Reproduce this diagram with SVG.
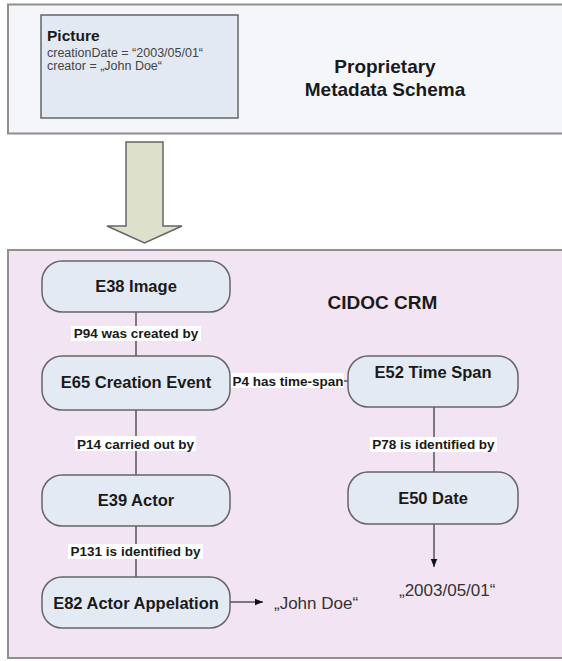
<svg xmlns="http://www.w3.org/2000/svg" width="562" height="661" viewBox="0 0 562 661">
  <defs>
    <marker id="arrowhead" viewBox="0 0 10 10" refX="10" refY="5" markerWidth="8" markerHeight="8" markerUnits="userSpaceOnUse" orient="auto">
      <path d="M0,1 L10,5 L0,9 Z" fill="#111"/>
    </marker>
    <style>
      text { font-family: "Liberation Sans", Arial, sans-serif; fill: #1a1a1a; }
      .panel { stroke: #8f8f8f; stroke-width: 2; }
      .node { fill: #e4eaf4; stroke: #666; stroke-width: 1.5; }
      .ntext { font-size: 16.5px; font-weight: bold; text-anchor: middle; }
      .lbg { fill: #ffffff; }
      .ltext { font-size: 13.5px; font-weight: bold; text-anchor: middle; }
      .edge { stroke: #555; stroke-width: 1.5; fill: none; }
      .title { font-size: 19px; font-weight: bold; text-anchor: middle; }
      .value { font-size: 17px; fill: #333; }
      .attr { font-size: 12.5px; fill: #444; }
    </style>
  </defs>

  <!-- source schema panel -->
  <g id="proprietary-schema">
    <rect class="panel" x="8" y="4.5" width="570" height="129" fill="#f5f6fa"/>
    <text class="title" x="385" y="73">Proprietary</text>
    <text class="title" x="385" y="96">Metadata Schema</text>
  </g>

  <g id="picture">
    <rect x="41" y="15" width="197" height="103" fill="#e3e9f3" stroke="#666" stroke-width="1.5"/>
    <text x="47" y="41" font-size="15.5" font-weight="bold">Picture</text>
    <text class="attr" x="47" y="57">creationDate = “2003/05/01“</text>
    <text class="attr" x="47" y="70">creator = „John Doe“</text>
  </g>

  <!-- mapping arrow -->
  <g id="mapping-arrow">
    <path d="M126,142 L163,142 L163,226 L182,226 L144.5,243 L107,226 L126,226 Z" fill="#dde1cc" stroke="#666" stroke-width="1.5" stroke-linejoin="miter"/>
  </g>

  <!-- CRM panel -->
  <g id="cidoc-crm">
    <rect class="panel" x="8" y="250" width="570" height="408" fill="#f3e4f3"/>
    <text class="title" x="382.5" y="309">CIDOC CRM</text>
  </g>

  <!-- connectors -->
  <g id="connectors">
    <line class="edge" x1="136" y1="312" x2="136" y2="356"/>
    <line class="edge" x1="136" y1="410" x2="136" y2="475"/>
    <line class="edge" x1="136" y1="526" x2="136" y2="577"/>
    <line class="edge" x1="230" y1="381" x2="348" y2="381"/>
    <line class="edge" x1="434" y1="407" x2="434" y2="472"/>
    <line class="edge" x1="230" y1="602" x2="263" y2="602" marker-end="url(#arrowhead)"/>
    <line class="edge" x1="434" y1="524" x2="434" y2="567" marker-end="url(#arrowhead)"/>

    <rect class="lbg" x="71" y="326" width="130" height="15"/>
    <text class="ltext" x="136" y="338">P94 was created by</text>

    <rect class="lbg" x="230" y="373" width="114" height="15"/>
    <text class="ltext" x="288" y="385.5">P4 has time-span</text>

    <rect class="lbg" x="75" y="436" width="121" height="15"/>
    <text class="ltext" x="135.5" y="448.5">P14 carried out by</text>

    <rect class="lbg" x="68" y="544" width="135" height="15"/>
    <text class="ltext" x="135.5" y="556">P131 is identified by</text>

    <rect class="lbg" x="370" y="437" width="127" height="15"/>
    <text class="ltext" x="433.5" y="449">P78 is identified by</text>
  </g>

  <!-- CRM nodes -->
  <g id="e38-image">
    <rect class="node" x="42" y="261" width="188" height="51" rx="20"/>
    <text class="ntext" x="136" y="292">E38 Image</text>
  </g>
  <g id="e65-creation-event">
    <rect class="node" x="42" y="356" width="188" height="54" rx="20"/>
    <text class="ntext" x="136" y="387.5">E65 Creation Event</text>
  </g>
  <g id="e52-time-span">
    <rect class="node" x="348" y="356" width="170" height="51" rx="20"/>
    <text class="ntext" x="433" y="378">E52 Time Span</text>
  </g>
  <g id="e39-actor">
    <rect class="node" x="42" y="475" width="188" height="51" rx="20"/>
    <text class="ntext" x="136" y="506">E39 Actor</text>
  </g>
  <g id="e50-date">
    <rect class="node" x="348" y="472" width="170" height="52" rx="20"/>
    <text class="ntext" x="433" y="504">E50 Date</text>
  </g>
  <g id="e82-actor-appelation">
    <rect class="node" x="42" y="577" width="188" height="51" rx="20"/>
    <text class="ntext" x="136" y="608.5">E82 Actor Appelation</text>
  </g>

  <!-- literal values -->
  <g id="value-john-doe">
    <text class="value" x="274" y="609">„John Doe“</text>
  </g>
  <g id="value-date">
    <text class="value" x="399" y="596">„2003/05/01“</text>
  </g>
</svg>
